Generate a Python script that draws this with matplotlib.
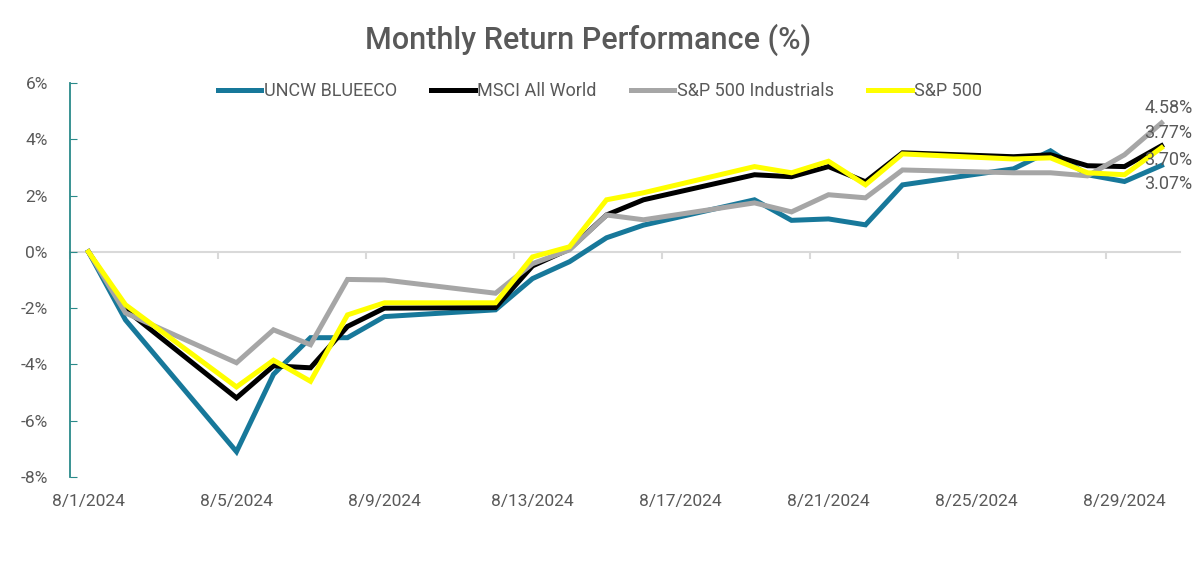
import matplotlib
matplotlib.use("Agg")
import matplotlib.pyplot as plt
import matplotlib.dates as mdates
from matplotlib.ticker import FuncFormatter
import pandas as pd

# trading days in August 2024
dates = ["8/1/2024", "8/2/2024", "8/5/2024", "8/6/2024", "8/7/2024", "8/8/2024",
         "8/9/2024", "8/12/2024", "8/13/2024", "8/14/2024", "8/15/2024", "8/16/2024",
         "8/19/2024", "8/20/2024", "8/21/2024", "8/22/2024", "8/23/2024", "8/26/2024",
         "8/27/2024", "8/28/2024", "8/29/2024", "8/30/2024"]

# cumulative returns in %
uncw = [0, -2.42, -7.1, -4.35, -3.05, -3.05, -2.3, -2.06, -0.95, -0.35, 0.5, 0.95,
        1.85, 1.12, 1.17, 0.96, 2.38, 2.95, 3.59, 2.74, 2.5, 3.07]
msci = [0, -2.05, -5.19, -4.05, -4.12, -2.65, -2.0, -1.98, -0.5, 0.1, 1.31, 1.85,
        2.74, 2.67, 3.03, 2.49, 3.52, 3.38, 3.45, 3.06, 3.03, 3.77]
industrials = [0, -2.17, -3.94, -2.77, -3.3, -0.98, -1.0, -1.47, -0.42, 0.07, 1.31, 1.14,
               1.74, 1.42, 2.03, 1.92, 2.91, 2.81, 2.81, 2.7, 3.45, 4.58]
sp500 = [0, -1.88, -4.8, -3.85, -4.6, -2.24, -1.81, -1.81, -0.18, 0.18, 1.85, 2.1,
         3.03, 2.81, 3.22, 2.38, 3.48, 3.3, 3.34, 2.81, 2.74, 3.70]

series_names = ["UNCW BLUEECO", "MSCI All World", "S&P 500 Industrials", "S&P 500"]
series_colors = ["#17789a", "#000000", "#a6a6a6", "#ffff00"]

tick_dates = ["8/1/2024", "8/5/2024", "8/9/2024", "8/13/2024",
              "8/17/2024", "8/21/2024", "8/25/2024", "8/29/2024"]

x = pd.to_datetime(dates, format="%m/%d/%Y")
ticks = pd.to_datetime(tick_dates, format="%m/%d/%Y")
text_gray = "#595959"

fig = plt.figure(figsize=(12, 5.69), dpi=100)
ax = fig.add_axes([70 / 1200, 92 / 569, 1110 / 1200, 394 / 569])

all_series = [uncw, msci, industrials, sp500]
for vals, name, col in zip(all_series, series_names, series_colors):
    ax.plot(x, vals, color=col, linewidth=3.6, label=name, solid_joinstyle="miter")

# end-of-series data labels (offsets in points)
end_x = x[-1]
offsets = {"UNCW BLUEECO": (5, -13.5), "MSCI All World": (5, 9.5),
           "S&P 500 Industrials": (5, 11), "S&P 500": (5, -8.5)}
for vals, name in zip(all_series, series_names):
    ax.annotate(f"{vals[-1]:.2f}%", (end_x, vals[-1]), xytext=offsets[name],
                textcoords="offset points", ha="center", va="center",
                fontsize=13, color=text_gray, family="Roboto")

# axes limits: half a day of padding, like the Excel date axis
half = pd.Timedelta(hours=12)
ax.set_xlim(x[0] - half, x[-1] + half)
ax.set_ylim(-8, 6)
ax.set_yticks(range(-8, 7, 2))
ax.yaxis.set_major_formatter(FuncFormatter(lambda v, p: f"{v:.0f}%"))

for s in ["top", "right"]:
    ax.spines[s].set_visible(False)
ax.spines["left"].set_color("#2a8a8a")
ax.spines["left"].set_linewidth(1.3)
ax.spines["bottom"].set_position(("data", 0))
ax.spines["bottom"].set_color("#d9d9d9")
ax.spines["bottom"].set_linewidth(1.5)
ax.spines["bottom"].set_zorder(0)

ax.tick_params(axis="y", direction="in", length=5, color="#2a8a8a",
               labelsize=12.5, labelcolor=text_gray, pad=16)
for lab in ax.get_yticklabels():
    lab.set_family("Roboto")

# tick marks between categories on the zero line
ax.set_xticks(ticks - half)
ax.tick_params(axis="x", length=5, color="#d9d9d9", width=1.5, labelbottom=False)

# date labels below the plot
sec = ax.secondary_xaxis("bottom")
sec.set_xticks(ticks)
sec.xaxis.set_major_formatter(FuncFormatter(
    lambda v, p: (lambda d: f"{d.month}/{d.day}/{d.year}")(mdates.num2date(v))))
sec.spines["bottom"].set_visible(False)
sec.tick_params(length=0, pad=12, labelsize=12.5, labelcolor=text_gray)
for lab in sec.get_xticklabels():
    lab.set_family("Roboto")

fig.text(588 / 1200, 1 - 40 / 569, "Monthly Return Performance (%)", ha="center",
         va="center", fontsize=22, color=text_gray, family="Roboto", fontweight="medium")

fig.legend(loc="center", bbox_to_anchor=(600 / 1200, 1 - 91 / 569), ncol=4,
           frameon=False, handlelength=2.4, handletextpad=0.15,
           columnspacing=1.9, prop={"family": "Roboto", "size": 13},
           labelcolor=text_gray)

fig.savefig("out.png", dpi=100, facecolor="white")
